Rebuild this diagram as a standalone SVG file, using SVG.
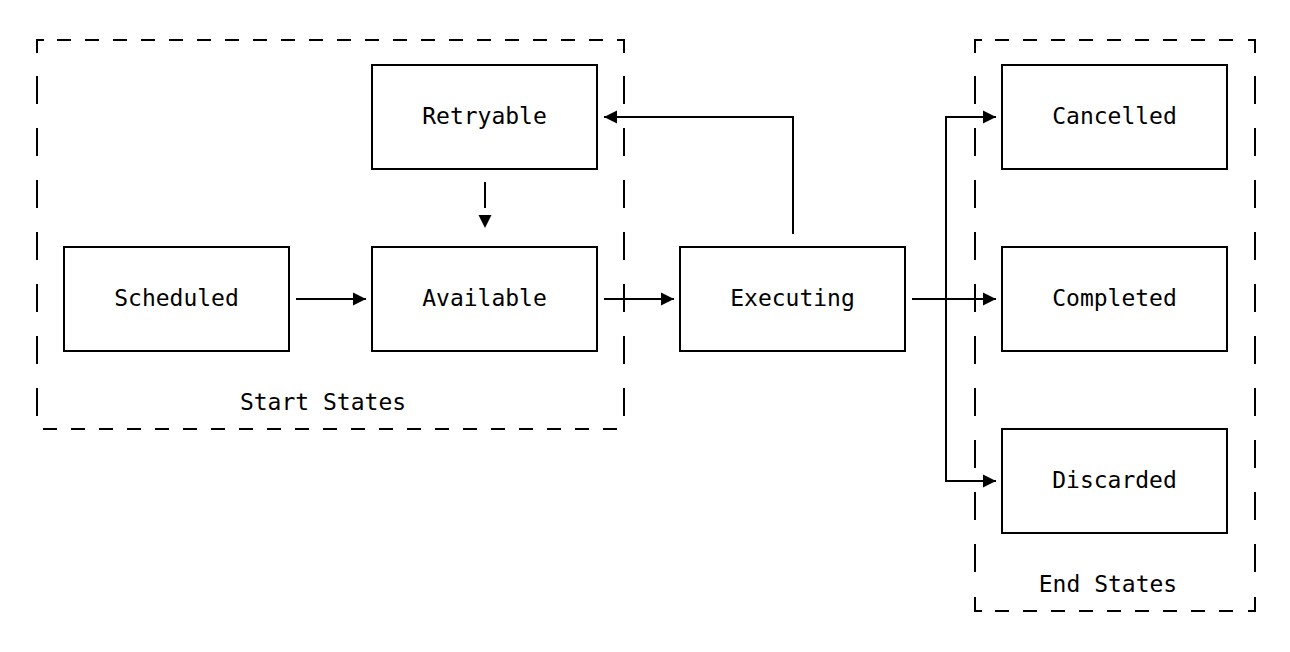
<svg xmlns="http://www.w3.org/2000/svg" width="1290" height="652" viewBox="0 0 1290 652">
  <style>
    .box { fill: #ffffff; stroke: #000000; stroke-width: 2; }
    .lbl { font-family: "DejaVu Sans Mono", "Liberation Mono", monospace; font-size: 23px; fill: #000000; text-anchor: middle; }
    .frame { fill: none; stroke: #000000; stroke-width: 2; }
    .dh { fill: none; stroke: #000000; stroke-width: 2; stroke-dasharray: 14 14; }
    .dv { fill: none; stroke: #000000; stroke-width: 2; stroke-dasharray: 28 24; }
    .conn { fill: none; stroke: #000000; stroke-width: 2; }
  </style>
  <defs>
    <marker id="arrow" markerUnits="userSpaceOnUse" markerWidth="14" markerHeight="14" refX="13" refY="7" orient="auto">
      <path d="M0,0.5 L13,7 L0,13.5 z" fill="#000000"/>
    </marker>
    <marker id="arrow-gap" markerUnits="userSpaceOnUse" markerWidth="30" markerHeight="14" refX="-7" refY="7" orient="auto">
      <path d="M0,0.5 L13,7 L0,13.5 z" fill="#000000"/>
    </marker>
  </defs>
  <rect x="0" y="0" width="1290" height="652" fill="#ffffff"/>

  <g id="start-states">
    <path class="frame" d="M37,53 V40 H44"/>
    <line class="dh" x1="57" y1="40" x2="617" y2="40"/>
    <path class="frame" d="M617,40 H624 V53"/>
    <line class="dv" x1="37" y1="76" x2="37" y2="416"/>
    <line class="dv" x1="624" y1="76" x2="624" y2="416"/>
    <line class="dh" x1="43" y1="429" x2="617" y2="429"/>
    <text class="lbl" x="323" y="410">Start States</text>
  </g>

  <g id="end-states">
    <path class="frame" d="M975,53 V40 H982"/>
    <line class="dh" x1="995" y1="40" x2="1241" y2="40"/>
    <path class="frame" d="M1248,40 H1255 V53"/>
    <line class="dv" x1="975" y1="76" x2="975" y2="572"/>
    <line class="dv" x1="1255" y1="76" x2="1255" y2="572"/>
    <path class="frame" d="M975,597 V611 H982"/>
    <line class="dh" x1="995" y1="611" x2="1241" y2="611"/>
    <path class="frame" d="M1248,611 H1255 V597"/>
    <text class="lbl" x="1108" y="592">End States</text>
  </g>

  <g id="connectors">
    <line class="conn" x1="296" y1="299" x2="366" y2="299" marker-end="url(#arrow)"/>
    <line class="conn" x1="604" y1="299" x2="674" y2="299" marker-end="url(#arrow)"/>
    <line class="conn" x1="485" y1="182" x2="485" y2="208" marker-end="url(#arrow-gap)"/>
    <path class="conn" d="M793,234 V117 H604" marker-end="url(#arrow)"/>
    <line class="conn" x1="912" y1="299" x2="996" y2="299" marker-end="url(#arrow)"/>
    <path class="conn" d="M946,299 V117 H996" marker-end="url(#arrow)"/>
    <path class="conn" d="M946,299 V481 H996" marker-end="url(#arrow)"/>
  </g>

  <g id="retryable">
    <rect class="box" x="372" y="65" width="225" height="104"/>
    <text class="lbl" x="484.5" y="124">Retryable</text>
  </g>
  <g id="scheduled">
    <rect class="box" x="64" y="247" width="225" height="104"/>
    <text class="lbl" x="176.5" y="306">Scheduled</text>
  </g>
  <g id="available">
    <rect class="box" x="372" y="247" width="225" height="104"/>
    <text class="lbl" x="484.5" y="306">Available</text>
  </g>
  <g id="executing">
    <rect class="box" x="680" y="247" width="225" height="104"/>
    <text class="lbl" x="792.5" y="306">Executing</text>
  </g>
  <g id="cancelled">
    <rect class="box" x="1002" y="65" width="225" height="104"/>
    <text class="lbl" x="1114.5" y="124">Cancelled</text>
  </g>
  <g id="completed">
    <rect class="box" x="1002" y="247" width="225" height="104"/>
    <text class="lbl" x="1114.5" y="306">Completed</text>
  </g>
  <g id="discarded">
    <rect class="box" x="1002" y="429" width="225" height="104"/>
    <text class="lbl" x="1114.5" y="488">Discarded</text>
  </g>
</svg>
